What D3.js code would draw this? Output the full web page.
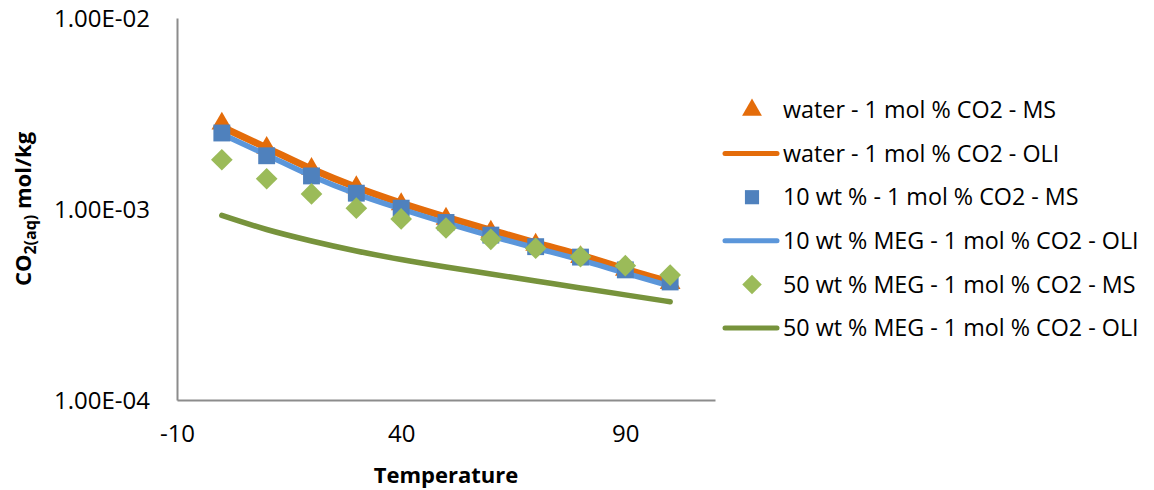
<!DOCTYPE html>
<html>
<head>
<meta charset="utf-8">
<script src="https://cdn.jsdelivr.net/npm/d3@7"></script>
<style>
  html, body { margin: 0; padding: 0; background: #fff; }
  svg { display: block; font-family: "Open Sans", "Liberation Sans", sans-serif; }
</style>
</head>
<body>
<svg id="chart" width="1154" height="490"></svg>
<script>
// Temperature (°C)
const temperatures = [0, 10, 20, 30, 40, 50, 60, 70, 80, 90, 100];

// Dissolved CO2 (mol/kg)
const waterMS   = [2.80e-3, 2.09e-3, 1.62e-3, 1.30e-3, 1.06e-3, 8.9e-4, 7.6e-4, 6.5e-4, 5.6e-4, 4.8e-4, 4.1e-4];
const waterOLI  = [2.69e-3, 2.09e-3, 1.62e-3, 1.30e-3, 1.075e-3, 9.08e-4, 7.76e-4, 6.64e-4, 5.74e-4, 4.85e-4, 4.15e-4];
const meg10MS   = [2.50e-3, 1.90e-3, 1.49e-3, 1.21e-3, 1.01e-3, 8.5e-4, 7.3e-4, 6.35e-4, 5.6e-4, 4.8e-4, 4.15e-4];
const meg10OLI  = [2.47e-3, 1.92e-3, 1.49e-3, 1.20e-3, 1.00e-3, 8.45e-4, 7.22e-4, 6.25e-4, 5.41e-4, 4.62e-4, 3.95e-4];
const meg50MS   = [1.81e-3, 1.44e-3, 1.20e-3, 1.01e-3, 8.87e-4, 7.95e-4, 6.94e-4, 6.23e-4, 5.63e-4, 5.05e-4, 4.51e-4];
const meg50OLI  = [9.26e-4, 7.81e-4, 6.80e-4, 6.03e-4, 5.44e-4, 4.97e-4, 4.57e-4, 4.20e-4, 3.86e-4, 3.55e-4, 3.27e-4];

const xTicks = [-10, 40, 90];
const yTicks = [1e-4, 1e-3, 1e-2];
const yTickLabels = ["1.00E-04", "1.00E-03", "1.00E-02"];

const seriesNames = [
  "water - 1 mol % CO2 - MS",
  "water - 1 mol % CO2 - OLI",
  "10 wt % - 1 mol % CO2 - MS",
  "10 wt % MEG - 1 mol % CO2 - OLI",
  "50 wt % MEG - 1 mol % CO2 - MS",
  "50 wt % MEG - 1 mol % CO2 - OLI"
];

const colors = {
  orange: "#E46C0A",
  blueMarker: "#4F81BD",
  blueLine: "#5B96DA",
  greenMarker: "#9BBB59",
  greenLine: "#77933C",
  axis: "#8C8C8C",
  text: "#000"
};

const svg = d3.select("#chart");
const plot = { left: 177, right: 715, top: 18, bottom: 400 };

const x = d3.scaleLinear().domain([-10, 110]).range([plot.left, plot.right]);
const y = d3.scaleLog().domain([1e-4, 1e-2]).range([plot.bottom, plot.top]);

// Axes (lines only, no tick marks)
const xAxis = d3.axisBottom(x).tickValues(xTicks).tickSize(0).tickPadding(25).tickFormat(d => String(d));
const yAxis = d3.axisLeft(y).tickValues(yTicks).tickSize(0).tickPadding(27)
  .tickFormat(d => yTickLabels[yTicks.indexOf(d)]);

const gx = svg.append("g").attr("transform", `translate(0,${plot.bottom})`).call(xAxis);
const gy = svg.append("g").attr("transform", `translate(${plot.left},0)`).call(yAxis);
[gx, gy].forEach(g => {
  g.select(".domain").attr("stroke", colors.axis).attr("stroke-width", 2);
  g.selectAll("text").attr("font-size", 24).attr("fill", colors.text)
    .attr("font-family", "'Open Sans', sans-serif");
});
gy.selectAll("text").attr("dy", "0.35em");

const pts = vals => temperatures.map((t, i) => [t, vals[i]]);
const line = d3.line().x(d => x(d[0])).y(d => y(d[1])).curve(d3.curveMonotoneX);

const g = svg.append("g");

// Marker shapes
const triSym = d3.symbol().type(d3.symbolTriangle).size(185);
const sqSym = d3.symbol().type(d3.symbolSquare).size(285);
const diaSym = d3.symbol().type(d3.symbolSquare).size(235);

function markers(vals, sym, color, rot) {
  g.append("g").selectAll("path").data(pts(vals)).join("path")
    .attr("d", sym)
    .attr("transform", d => `translate(${x(d[0])},${y(d[1])})${rot ? " rotate(45)" : ""}`)
    .attr("fill", color);
}
function curve(vals, color, w) {
  g.append("path").datum(pts(vals)).attr("d", line)
    .attr("fill", "none").attr("stroke", color).attr("stroke-width", w)
    .attr("stroke-linecap", "round").attr("stroke-linejoin", "round");
}

markers(waterMS, triSym, colors.orange, false);
curve(waterOLI, colors.orange, 7);
curve(meg10OLI, colors.blueLine, 5.5);
markers(meg10MS, sqSym, colors.blueMarker, false);
markers(meg50MS, diaSym, colors.greenMarker, true);
curve(meg50OLI, colors.greenLine, 5.5);

// Axis titles
svg.append("text")
  .attr("x", 446).attr("y", 483)
  .attr("text-anchor", "middle")
  .attr("font-size", 22).attr("font-weight", "bold")
  .attr("font-family", "'Open Sans', sans-serif")
  .text("Temperature");

const yt = svg.append("text")
  .attr("transform", "translate(31,209) rotate(-90)")
  .attr("text-anchor", "middle")
  .attr("font-size", 22).attr("font-weight", "bold")
  .attr("font-family", "'Open Sans', sans-serif");
yt.append("tspan").text("CO");
yt.append("tspan").attr("font-size", 16).attr("dy", 5).text("2(aq)");
yt.append("tspan").attr("dy", -5).text(" mol/kg");

// Legend
const legendRows = [
  { name: seriesNames[0], kind: "marker", sym: d3.symbol().type(d3.symbolTriangle).size(170), color: colors.orange, rot: false },
  { name: seriesNames[1], kind: "line", color: colors.orange },
  { name: seriesNames[2], kind: "marker", sym: d3.symbol().type(d3.symbolSquare).size(200), color: colors.blueMarker, rot: false },
  { name: seriesNames[3], kind: "line", color: colors.blueLine },
  { name: seriesNames[4], kind: "marker", sym: d3.symbol().type(d3.symbolSquare).size(190), color: colors.greenMarker, rot: true },
  { name: seriesNames[5], kind: "line", color: colors.greenLine }
];
const legend = svg.append("g");
legendRows.forEach((r, i) => {
  const cy = 110 + i * 43.6;
  if (r.kind === "line") {
    legend.append("line").attr("x1", 725).attr("x2", 777).attr("y1", cy).attr("y2", cy)
      .attr("stroke", r.color).attr("stroke-width", 5).attr("stroke-linecap", "round");
  } else {
    legend.append("path").attr("d", r.sym)
      .attr("transform", `translate(752,${cy})${r.rot ? " rotate(45)" : ""}`)
      .attr("fill", r.color);
  }
  legend.append("text").attr("x", 783).attr("y", cy).attr("dy", "0.35em")
    .attr("font-size", 23.3).attr("fill", colors.text)
    .attr("font-family", "'Open Sans', sans-serif")
    .text(r.name);
});
</script>
</body>
</html>
